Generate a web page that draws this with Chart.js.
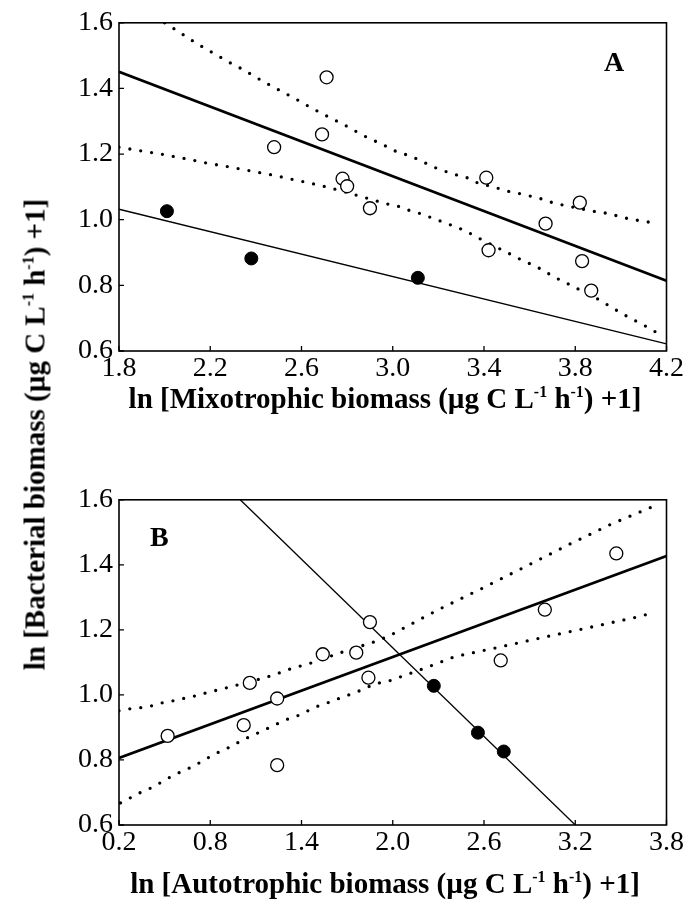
<!DOCTYPE html>
<html>
<head>
<meta charset="utf-8">
<script src="https://cdn.jsdelivr.net/npm/chart.js@4.4.1/dist/chart.umd.min.js"></script>
<style>
  body { margin: 0; background: #fff; }
  #wrap { position: relative; width: 685px; height: 905px; font-family: 'Liberation Serif', 'Times New Roman', serif; }
  .box { position: absolute; left: 0; }
  .xt, .yt { position: absolute; font-weight: bold; font-size: 29px; white-space: nowrap; text-align: center; color: #000; }
  .xt { left: 0; width: 770px; }
  .yt { width: 640px; transform: rotate(-90deg); }
  sup { font-size: 0.55em; vertical-align: 0.7em; line-height: 0; }
  .lab { position: absolute; font-weight: bold; font-size: 28px; }
</style>
</head>
<body>
<div id="wrap">
  <div class="box" style="top:0"><canvas id="chartA" width="685" height="395"></canvas></div>
  <div class="box" style="top:477px"><canvas id="chartB" width="685" height="392"></canvas></div>
  <div class="xt" style="top:382px">ln [Mixotrophic biomass (µg C L<sup>-1</sup> h<sup>-1</sup>) +1]</div>
  <div class="xt" style="top:867px">ln [Autotrophic biomass (µg C L<sup>-1</sup> h<sup>-1</sup>) +1]</div>
  <div class="yt" style="left:-285px;top:418px">ln [Bacterial biomass (µg C L<sup>-1</sup> h<sup>-1</sup>) +1]</div>
  <div class="lab" style="left:604px;top:46px">A</div>
  <div class="lab" style="left:150px;top:521px">B</div>
</div>
<script>
// panel A - mixotrophic biomass
const mixoX = [2.48, 2.69, 2.71, 2.78, 2.80, 2.90, 3.41, 3.42, 3.67, 3.82, 3.83, 3.87];
const mixoY = [1.221, 1.260, 1.434, 1.125, 1.102, 1.035, 1.128, 0.907, 0.988, 1.052, 0.874, 0.784];
const mixoDarkX = [2.01, 2.38, 3.11];
const mixoDarkY = [1.026, 0.882, 0.823];
const fitAX = [1.8, 4.2];
const fitAY = [1.451, 0.814];
const fitDarkAX = [1.8, 4.2];
const fitDarkAY = [1.032, 0.622];
const upperAX = [2.00, 2.05, 2.14, 2.19, 2.29, 2.34, 2.43, 2.48, 2.58, 2.63, 2.68, 2.73, 2.78, 2.87, 2.97, 3.02, 3.07, 3.12, 3.17, 3.22, 3.27, 3.32, 3.36, 3.46, 3.51, 3.56, 3.61, 3.66, 3.70, 3.75, 3.90, 3.95, 4.00, 4.05, 4.10, 4.15];
const upperAY = [1.600, 1.578, 1.537, 1.517, 1.477, 1.459, 1.422, 1.403, 1.366, 1.346, 1.327, 1.309, 1.292, 1.257, 1.224, 1.206, 1.196, 1.181, 1.163, 1.150, 1.138, 1.130, 1.115, 1.096, 1.086, 1.079, 1.071, 1.062, 1.052, 1.044, 1.023, 1.019, 1.008, 1.001, 0.995, 0.990];
const lowerAX = [1.80, 2.00, 2.09, 2.19, 2.29, 2.39, 2.48, 2.58, 2.68, 2.78, 2.87, 2.97, 3.02, 3.07, 3.12, 3.17, 3.22, 3.27, 3.32, 3.36, 3.51, 3.56, 3.61, 3.66, 3.70, 3.75, 3.90, 3.95, 4.00, 4.05, 4.10, 4.15];
const lowerAY = [1.221, 1.198, 1.186, 1.172, 1.160, 1.147, 1.135, 1.120, 1.105, 1.087, 1.069, 1.049, 1.042, 1.029, 1.019, 1.006, 0.993, 0.980, 0.966, 0.950, 0.897, 0.879, 0.863, 0.846, 0.828, 0.811, 0.758, 0.737, 0.716, 0.697, 0.679, 0.659];

// panel B - autotrophic biomass
const autoX = [0.52, 1.02, 1.06, 1.24, 1.24, 1.54, 1.76, 1.84, 1.85, 2.71, 3.00, 3.47];
const autoY = [0.874, 0.907, 1.037, 0.989, 0.784, 1.125, 1.130, 1.053, 1.224, 1.106, 1.262, 1.435];
const autoDarkX = [2.27, 2.56, 2.73];
const autoDarkY = [1.028, 0.884, 0.826];
const fitBX = [0.2, 3.8];
const fitBY = [0.806, 1.427];
const fitDarkBX = [0.997, 3.2];
const fitDarkBY = [1.6, 0.6];
const upperBX = [0.20, 0.28, 0.35, 0.43, 0.50, 0.57, 0.65, 0.72, 0.79, 0.86, 0.94, 1.16, 1.24, 1.30, 1.37, 1.45, 1.67, 1.89, 1.97, 2.29, 2.58, 2.87, 3.16, 3.44, 3.73];
const upperBY = [0.951, 0.958, 0.961, 0.968, 0.978, 0.983, 0.992, 0.999, 1.009, 1.016, 1.026, 1.053, 1.065, 1.076, 1.086, 1.096, 1.132, 1.165, 1.180, 1.260, 1.326, 1.394, 1.463, 1.526, 1.583];
const lowerBX = [0.21, 0.35, 0.43, 0.50, 0.57, 0.65, 0.72, 0.79, 0.86, 0.94, 1.01, 1.16, 1.23, 1.30, 1.38, 1.45, 1.52, 1.60, 1.67, 1.75, 1.82, 1.89, 1.97, 2.18, 2.41, 2.61, 2.71, 3.01, 3.31, 3.61, 3.73];
const lowerBY = [0.668, 0.702, 0.718, 0.738, 0.756, 0.772, 0.789, 0.808, 0.825, 0.842, 0.861, 0.893, 0.909, 0.924, 0.937, 0.953, 0.968, 0.980, 0.994, 1.006, 1.021, 1.035, 1.042, 1.077, 1.118, 1.138, 1.148, 1.179, 1.209, 1.240, 1.255];

// tick labels
const yTicks = [0.6, 0.8, 1.0, 1.2, 1.4, 1.6];
const xTicksA = [1.8, 2.2, 2.6, 3.0, 3.4, 3.8, 4.2];
const xTicksB = [0.2, 0.8, 1.4, 2.0, 2.6, 3.2, 3.8];

const pts = (xs, ys) => xs.map((x, i) => ({ x: x, y: ys[i] }));
const FONT = "'Liberation Serif', 'Times New Roman', serif";

// box round the plot area plus short inward ticks
const framePlugin = {
  id: 'frame',
  afterDraw(chart) {
    const { ctx, chartArea: a, scales } = chart;
    ctx.save();
    ctx.strokeStyle = '#000';
    ctx.lineWidth = 1.6;
    ctx.strokeRect(a.left, a.top, a.right - a.left, a.bottom - a.top);
    ctx.lineWidth = 1.3;
    ctx.beginPath();
    scales.x.ticks.forEach(t => {
      const px = scales.x.getPixelForValue(t.value);
      ctx.moveTo(px, a.bottom);
      ctx.lineTo(px, a.bottom - 5);
    });
    scales.y.ticks.forEach(t => {
      const py = scales.y.getPixelForValue(t.value);
      ctx.moveTo(a.left, py);
      ctx.lineTo(a.left + 5, py);
    });
    ctx.stroke();
    ctx.restore();
  }
};

function makeChart(id, d, xTicks) {
  const open = { data: pts(d.ox, d.oy), pointRadius: 6.5, pointBackgroundColor: '#fff', pointBorderColor: '#000', pointBorderWidth: 1.3, showLine: false };
  const dark = { data: pts(d.dx, d.dy), pointRadius: 6.5, pointBackgroundColor: '#000', pointBorderColor: '#000', pointBorderWidth: 1, showLine: false };
  const line = (xs, ys, w, dash) => ({
    data: pts(xs, ys), showLine: true, pointRadius: 0, borderColor: '#000', borderWidth: w,
    borderDash: dash || [], borderCapStyle: dash ? 'round' : 'butt', tension: 0
  });
  return new Chart(document.getElementById(id), {
    type: 'scatter',
    data: {
      datasets: [
        open, dark,
        line(d.fx, d.fy, 2.8),
        line(d.fdx, d.fdy, 1.3),
        line(d.ux, d.uy, 3.3, [0, 11]),
        line(d.lx, d.ly, 3.3, [0, 11])
      ]
    },
    options: {
      responsive: false,
      animation: false,
      layout: { padding: { top: 22, right: 18, left: 0, bottom: 0 } },
      plugins: { legend: { display: false }, tooltip: { enabled: false } },
      scales: {
        x: {
          type: 'linear', min: xTicks[0], max: xTicks[xTicks.length - 1],
          afterBuildTicks: s => { s.ticks = xTicks.map(v => ({ value: v })); },
          afterFit: s => { s.height = 44; },
          grid: { display: false, drawTicks: false },
          border: { display: false },
          ticks: { color: '#000', padding: 1, font: { family: FONT, size: 28 }, callback: v => Number(v).toFixed(1), maxRotation: 0 }
        },
        y: {
          type: 'linear', min: 0.6, max: 1.6,
          afterBuildTicks: s => { s.ticks = yTicks.map(v => ({ value: v })); },
          afterFit: s => { s.width = 119; },
          grid: { display: false, drawTicks: false },
          border: { display: false },
          ticks: { color: '#000', padding: 6, font: { family: FONT, size: 28 }, callback: v => Number(v).toFixed(1) }
        }
      }
    },
    plugins: [framePlugin]
  });
}

makeChart('chartA', {
  ox: mixoX, oy: mixoY, dx: mixoDarkX, dy: mixoDarkY,
  fx: fitAX, fy: fitAY, fdx: fitDarkAX, fdy: fitDarkAY,
  ux: upperAX, uy: upperAY, lx: lowerAX, ly: lowerAY
}, xTicksA);

makeChart('chartB', {
  ox: autoX, oy: autoY, dx: autoDarkX, dy: autoDarkY,
  fx: fitBX, fy: fitBY, fdx: fitDarkBX, fdy: fitDarkBY,
  ux: upperBX, uy: upperBY, lx: lowerBX, ly: lowerBY
}, xTicksB);
</script>
</body>
</html>
